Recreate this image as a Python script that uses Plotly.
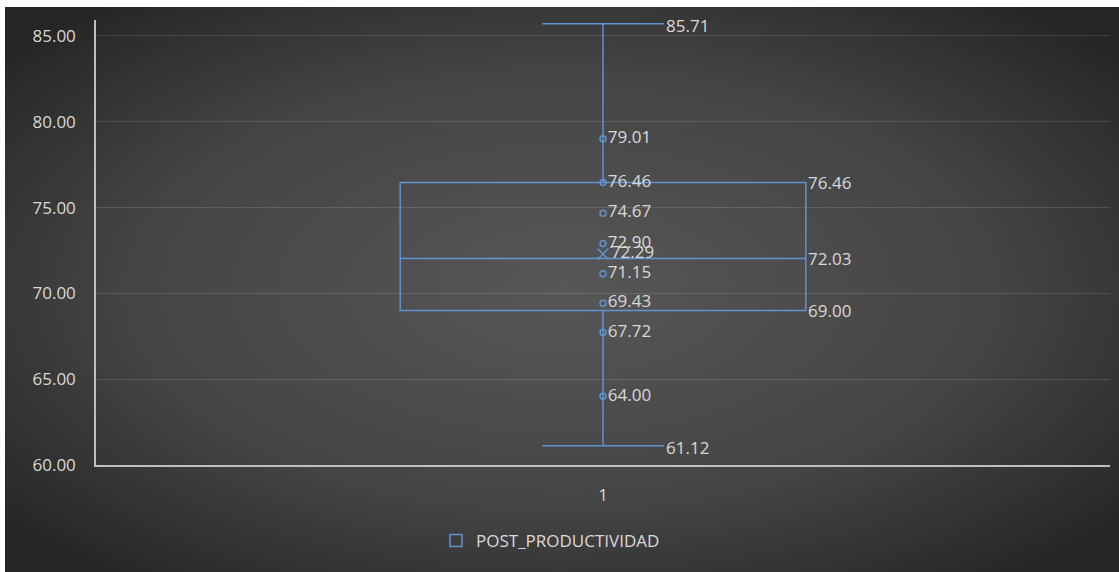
import plotly.graph_objects as go
from urllib.parse import quote

# ---- data ----
series_name = "POST_PRODUCTIVIDAD"
category = ["1"]
lower_whisker = 61.12
q1 = 69.00
median = 72.03
q3 = 76.46
upper_whisker = 85.71
mean_value = 72.29
inner_points = [79.01, 76.46, 74.67, 72.90, 71.15, 69.43, 67.72, 64.00]
y_ticks = [60, 65, 70, 75, 80, 85]

BLUE = "#5f93d3"
TXT = "#d9d9d9"
FONT = "Open Sans"
FS = 17

fig = go.Figure()

fig.add_trace(go.Box(
    x=[0], q1=[q1], median=[median], q3=[q3],
    lowerfence=[lower_whisker], upperfence=[upper_whisker],
    width=0.4, whiskerwidth=0.3,
    line=dict(color=BLUE, width=1.5),
    fillcolor="rgba(0,0,0,0)",
    name=series_name, showlegend=True, hoverinfo="skip",
))

fig.add_trace(go.Scatter(
    x=[0] * len(inner_points), y=inner_points,
    mode="markers+text",
    marker=dict(symbol="circle-open", size=6, color=BLUE, line=dict(width=1.5, color=BLUE)),
    text=[f"{v:.2f}" for v in inner_points], textposition="middle right",
    textfont=dict(color=TXT, size=FS, family=FONT),
    showlegend=False, hoverinfo="skip", cliponaxis=False,
))

fig.add_trace(go.Scatter(
    x=[0], y=[mean_value], mode="markers+text",
    marker=dict(symbol="x-thin-open", size=11, color=BLUE, line=dict(width=1.5, color=BLUE)),
    text=[f"{mean_value:.2f}"], textposition="middle right",
    textfont=dict(color=TXT, size=FS, family=FONT),
    showlegend=False, hoverinfo="skip",
))

annotations = []
for v in [q3, median, q1]:
    annotations.append(dict(x=0.2, y=v, xref="x", yref="y", text=f"{v:.2f}", showarrow=False,
                            xanchor="left", yanchor="middle", xshift=0,
                            font=dict(color=TXT, size=FS, family=FONT)))
for v in [upper_whisker, lower_whisker]:
    annotations.append(dict(x=0.06, y=v, xref="x", yref="y", text=f"{v:.2f}", showarrow=False,
                            xanchor="left", yanchor="middle", xshift=0, yshift=-2,
                            font=dict(color=TXT, size=FS, family=FONT)))

svg = ('<svg xmlns="http://www.w3.org/2000/svg" width="1114" height="565" viewBox="0 0 1114 565" '
       'preserveAspectRatio="none"><defs><radialGradient id="g" cx="50%" cy="50%" r="65%">'
       '<stop offset="0" stop-color="#575757"/><stop offset="0.6" stop-color="#444444"/>'
       '<stop offset="1" stop-color="#262626"/></radialGradient></defs>'
       '<rect width="1114" height="565" fill="url(#g)"/></svg>')
bg_src = "data:image/svg+xml;charset=utf-8," + quote(svg)

W, H = 1119, 572
L, R, T, B = 96, 9, 20, 107
pw, ph = W - L - R, H - T - B

fig.update_layout(
    width=W, height=H,
    margin=dict(l=L, r=R, t=T, b=B),
    paper_bgcolor="white", plot_bgcolor="rgba(0,0,0,0)",
    images=[dict(source=bg_src, xref="paper", yref="paper",
                 x=(5 - L) / pw, y=1 + (T - 7) / ph,
                 sizex=1114 / pw, sizey=565 / ph,
                 sizing="stretch", xanchor="left", yanchor="top", layer="below")],
    font=dict(family=FONT, color=TXT, size=FS),
    showlegend=True,
    legend=dict(orientation="h", x=(436 - L) / pw, xanchor="left", y=(465 - 541) / ph, yanchor="middle",
                font=dict(color=TXT, size=FS, family=FONT), bgcolor="rgba(0,0,0,0)"),
    annotations=annotations,
    xaxis=dict(range=[-0.5, 0.5], tickvals=[0], ticktext=category, showgrid=False, zeroline=False,
               showline=True, linecolor="#bfbfbf", linewidth=1.5, ticks="", ticklabelstandoff=14,
               tickfont=dict(color=TXT, size=FS, family=FONT), fixedrange=True),
    yaxis=dict(range=[60, 85.93], tickvals=y_ticks, ticktext=[f"{t:.2f}" for t in y_ticks],
               showgrid=True, gridcolor="rgba(255,255,255,0.13)", gridwidth=1, zeroline=False,
               showline=True, linecolor="#bfbfbf", linewidth=1.5, ticks="", ticklabelstandoff=15,
               tickfont=dict(color=TXT, size=FS, family=FONT), fixedrange=True),
)

fig.write_html("out.html")
